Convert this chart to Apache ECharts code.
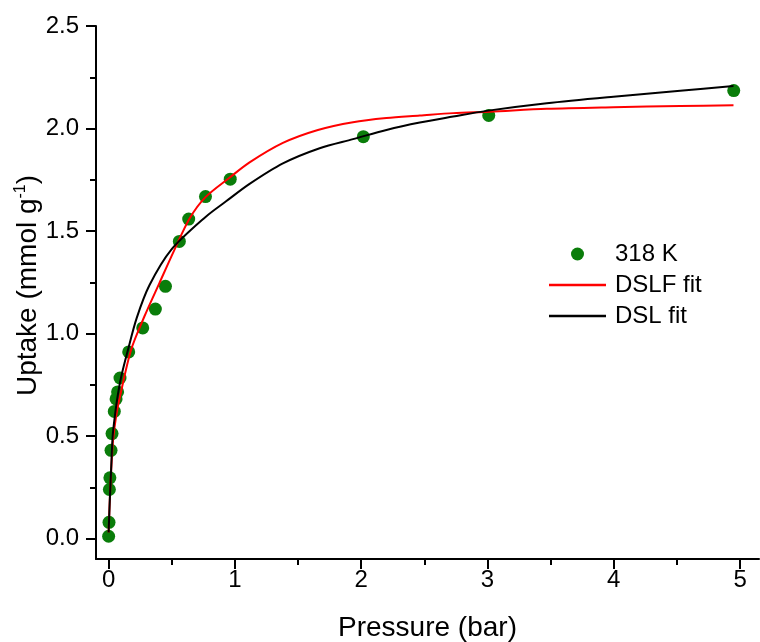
<!DOCTYPE html>
<html>
<head>
<meta charset="utf-8">
<script src="https://cdn.jsdelivr.net/npm/echarts@6/dist/echarts.min.js"></script>
<style>html,body{margin:0;padding:0;background:#fff}#c{width:760px;height:642px}</style>
</head>
<body>
<div id="c"></div>
<script>
// Measured data (318 K)
const pressure = [0.0, 0.003, 0.006, 0.01, 0.019, 0.027, 0.045, 0.059, 0.071, 0.09, 0.159, 0.27, 0.37, 0.45, 0.56, 0.634, 0.767, 0.963, 2.017, 3.01, 4.95];
const uptake   = [0.011, 0.079, 0.239, 0.296, 0.43, 0.512, 0.62, 0.681, 0.715, 0.783, 0.91, 1.027, 1.119, 1.23, 1.449, 1.558, 1.668, 1.753, 1.96, 2.064, 2.185];

// DSLF fit curve
const dslfX = [0, 0.01, 0.02, 0.035, 0.06, 0.09, 0.178, 0.283, 0.402, 0.521, 0.64, 0.767, 0.957, 1.116, 1.38, 1.657, 1.935, 2.2, 2.464, 2.728, 3.019, 3.469, 3.997, 4.526, 4.948];
const dslfY = [0.03, 0.2, 0.33, 0.48, 0.6, 0.693, 0.921, 1.083, 1.246, 1.408, 1.56, 1.665, 1.76, 1.835, 1.93, 1.993, 2.031, 2.051, 2.063, 2.075, 2.082, 2.096, 2.104, 2.110, 2.113];

// DSL fit curve
const dslX = [0, 0.01, 0.02, 0.032, 0.05, 0.071, 0.1, 0.151, 0.222, 0.323, 0.495, 0.77, 0.93, 1.116, 1.38, 1.671, 1.935, 2.2, 2.464, 2.728, 2.993, 3.469, 3.997, 4.526, 4.948];
const dslY = [0.03, 0.2, 0.34, 0.5, 0.6, 0.693, 0.79, 0.915, 1.075, 1.235, 1.408, 1.57, 1.645, 1.73, 1.83, 1.904, 1.948, 1.993, 2.029, 2.058, 2.086, 2.123, 2.155, 2.184, 2.207];

// Tick labels
const xMajorTicks = [0, 1, 2, 3, 4, 5];
const xMinorTicks = [0.5, 1.5, 2.5, 3.5, 4.5];
const yMajorTicks = [0, 0.5, 1.0, 1.5, 2.0, 2.5];
const yMinorTicks = [0.25, 0.75, 1.25, 1.75, 2.25];

const seriesNames = ['318 K', 'DSLF fit', 'DSL fit'];

const FONT = 'Liberation Sans, Arial, sans-serif';
const zip = (a, b) => a.map((v, i) => [v, b[i]]);
const LINE_ICON = 'path://M0,0H100V4H0Z';

const chart = echarts.init(document.getElementById('c'), null, {renderer: 'canvas'});
const axisLine = {show: true, onZero: false, lineStyle: {color: '#000', width: 2}};
const baseX = {type: 'value', min: -0.1, max: 5.15, splitLine: {show: false}, gridIndex: 0, position: 'bottom'};
const baseY = {type: 'value', min: -0.1, max: 2.5, splitLine: {show: false}, gridIndex: 0, position: 'left'};

chart.setOption({
  animation: false,
  backgroundColor: '#fff',
  grid: {left: 96, top: 26, right: 1, bottom: 83, containLabel: false, outerBoundsMode: 'none'},
  xAxis: [
    Object.assign({}, baseX, {
      axisLine: axisLine,
      axisTick: {show: true, inside: false, length: 10, lineStyle: {color: '#000', width: 2}, customValues: xMajorTicks},
      axisLabel: {show: true, margin: 9, fontSize: 24, color: '#000', fontFamily: FONT, customValues: xMajorTicks, formatter: v => String(v)},
      name: 'Pressure (bar)', nameLocation: 'middle', nameGap: 55, nameMoveOverlap: false,
      nameTextStyle: {fontSize: 28, color: '#000', fontFamily: FONT}
    }),
    Object.assign({}, baseX, {
      offset: 0,
      axisLine: {show: false, onZero: false},
      axisTick: {show: true, inside: false, length: 6, lineStyle: {color: '#000', width: 2}, customValues: xMinorTicks},
      axisLabel: {show: false}
    })
  ],
  yAxis: [
    Object.assign({}, baseY, {
      axisLine: axisLine,
      axisTick: {show: true, inside: false, length: 10, lineStyle: {color: '#000', width: 2}, customValues: yMajorTicks},
      axisLabel: {show: true, margin: 17, fontSize: 24, color: '#000', fontFamily: FONT, customValues: yMajorTicks, formatter: v => v.toFixed(1)},
      name: 'Uptake (mmol g{sup|-1})', nameLocation: 'middle', nameGap: 53, nameMoveOverlap: false,
      nameTextStyle: {fontSize: 28, color: '#000', fontFamily: FONT, padding: [0, 0, 0, 14],
        rich: {sup: {fontSize: 16, color: '#000', fontFamily: FONT, verticalAlign: 'top', padding: [0, 0, 14, 0]}}}
    }),
    Object.assign({}, baseY, {
      offset: 0,
      axisLine: {show: false, onZero: false},
      axisTick: {show: true, inside: false, length: 6, lineStyle: {color: '#000', width: 2}, customValues: yMinorTicks},
      axisLabel: {show: false}
    })
  ],
  legend: {
    orient: 'vertical', left: 544, top: 237,
    itemWidth: 57, itemHeight: 13, itemGap: 7,
    data: [
      {name: seriesNames[0]},
      {name: seriesNames[1], icon: LINE_ICON},
      {name: seriesNames[2], icon: LINE_ICON}
    ],
    textStyle: {fontSize: 24, color: '#000', fontFamily: FONT, padding: [0, 0, 0, 4]}
  },
  series: [
    {name: seriesNames[0], type: 'scatter', data: zip(pressure, uptake), symbol: 'circle', symbolSize: 13,
     itemStyle: {color: '#0a7d0a', opacity: 1}, z: 2},
    {name: seriesNames[1], type: 'line', data: zip(dslfX, dslfY), smooth: 0.3, symbol: 'none', showSymbol: false,
     lineStyle: {color: '#ff0000', width: 2}, itemStyle: {color: '#ff0000'}, z: 3},
    {name: seriesNames[2], type: 'line', data: zip(dslX, dslY), smooth: 0.3, symbol: 'none', showSymbol: false,
     lineStyle: {color: '#000', width: 2}, itemStyle: {color: '#000'}, z: 4}
  ]
});
</script>
</body>
</html>
